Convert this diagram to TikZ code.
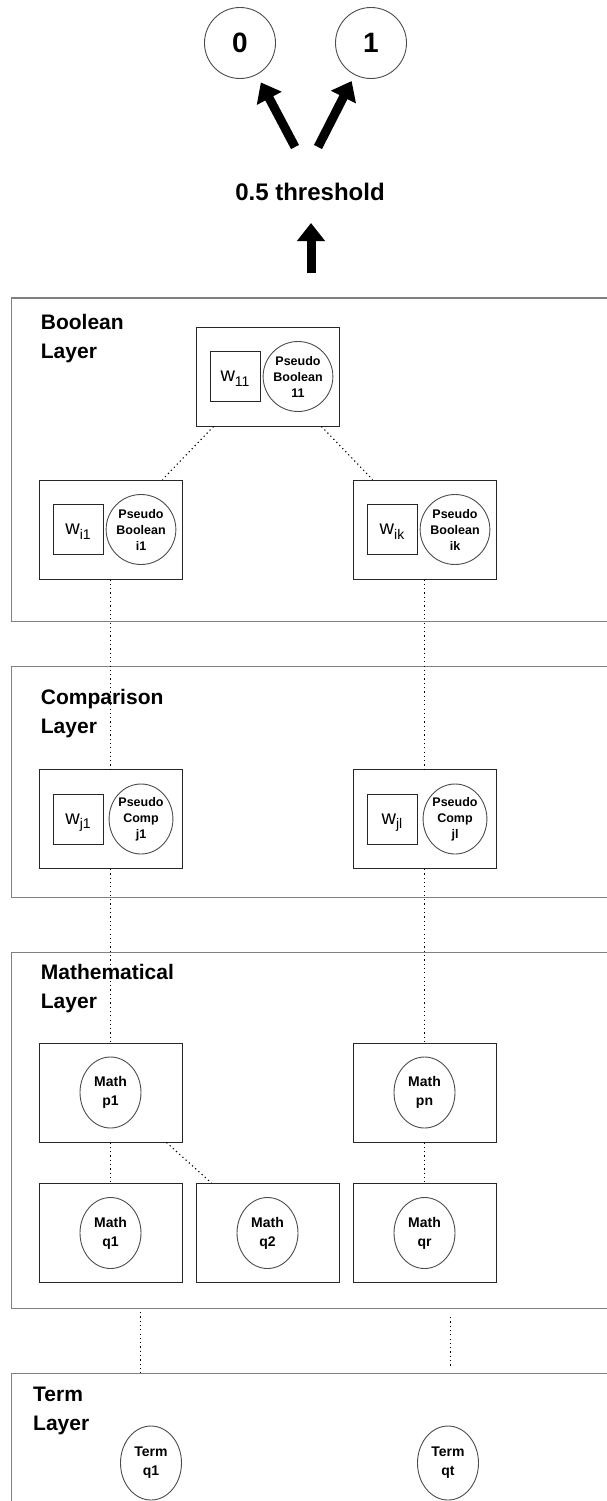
\documentclass[tikz,border=0pt]{standalone}
\usepackage{fontspec}
\setmainfont{Liberation Sans}
\usetikzlibrary{shapes.geometric,arrows.meta}
\newcommand\wsub[1]{w\raisebox{-4.5pt}{\fontsize{14}{14}\selectfont #1}}
\tikzset{
 layerbox/.style={draw=black!50, line width=1.2pt, anchor=north west, inner sep=0, minimum width=650pt},
 unitbox/.style={draw=black!85, line width=1pt, minimum width=143pt, minimum height=99pt, inner sep=0},
 wbox/.style={draw=black!85, line width=1pt, minimum width=50pt, minimum height=50pt, inner sep=0, text depth=0pt, font=\fontsize{20}{20}\selectfont},
 pseudo/.style={ellipse, draw=black!70, line width=0.9pt, minimum width=61pt, minimum height=70pt, inner sep=0, align=center, font=\fontsize{12.5}{16}\selectfont\bfseries},
 mathc/.style={pseudo, minimum height=71pt, font=\fontsize{14}{19}\selectfont\bfseries},
 termc/.style={mathc, minimum height=74pt},
 layerlabel/.style={anchor=base west, align=left, inner sep=0, font=\fontsize{21}{29}\selectfont\bfseries},
 conn/.style={black, line width=1.1pt, dash pattern=on 1.2pt off 3.1pt},
 bigarrow/.style={line width=9pt, -{Triangle[width=27pt,length=18pt]}},
 outc/.style={circle, draw=black!70, line width=0.9pt, minimum size=71pt, inner sep=0, font=\fontsize{28}{28}\selectfont\bfseries},
 thr/.style={inner sep=0, font=\fontsize{24}{24}\selectfont\bfseries},
}
\begin{document}
\begin{tikzpicture}[x=1pt,y=-1pt]
\useasboundingbox (0,0) rectangle (607,1501);
% output nodes
\node[outc] (c0) at (240,43) {0};
\node[outc] (c1) at (371,43) {1};
\node[thr] (th) at (310,192) {0.5 threshold};
\coordinate (a0s) at (295,147);
\coordinate (a1s) at (318,147);
\coordinate (ups) at (311,273);
\coordinate (upe) at (311,223);
\draw[bigarrow, shorten >=44.6pt] (a0s) -- (c0.center);
\draw[bigarrow, shorten >=42.7pt] (a1s) -- (c1.center);
\draw[bigarrow] (ups) -- (upe);
% layers
\node[layerbox, minimum height=323.7pt] (lbool) at (10.7,297.3) {};
\node[layerbox, minimum height=231pt] (lcomp) at (10.7,666) {};
\node[layerbox, minimum height=355.5pt] (lmath) at (10.7,952) {};
\node[layerbox, minimum height=200pt] (lterm) at (10.7,1373) {};
\node[layerlabel] (tbool) at (40.7,358) {Boolean\\Layer};
\node[layerlabel] (tcomp) at (40.7,733) {Comparison\\Layer};
\node[layerlabel] (tmath) at (40.7,1008) {Mathematical\\Layer};
\node[layerlabel] (tterm) at (33,1430) {Term\\Layer};
% boolean layer
\node[unitbox] (b11) at (267.5,376.5) {};
\node[wbox] (w11) at (235,376.5) {\wsub{11}};
\node[pseudo] (pb11) at (298,376.5) {Pseudo\\Boolean\\11};
\node[unitbox] (bi1) at (110.5,529.5) {};
\node[wbox] (wi1) at (78,529.5) {\wsub{i1}};
\node[pseudo] (pbi1) at (141,529.5) {Pseudo\\Boolean\\i1};
\node[unitbox] (bik) at (424.5,529.5) {};
\node[wbox] (wik) at (392,529.5) {\wsub{ik}};
\node[pseudo] (pbik) at (455,529.5) {Pseudo\\Boolean\\ik};
% comparison layer
\node[unitbox] (bj1) at (110.5,819) {};
\node[wbox] (wj1) at (78,819) {\wsub{j1}};
\node[pseudo] (pcj1) at (141,819) {Pseudo\\Comp\\j1};
\node[unitbox] (bjl) at (424.5,819) {};
\node[wbox] (wjl) at (392,819) {\wsub{jl}};
\node[pseudo] (pcjl) at (455,819) {Pseudo\\Comp\\jl};
% mathematical layer
\node[unitbox] (bp1) at (110.5,1092.5) {};
\node[mathc] (mp1) at (110.5,1092.5) {Math\\p1};
\node[unitbox] (bpn) at (424.5,1092.5) {};
\node[mathc] (mpn) at (424.5,1092.5) {Math\\pn};
\node[unitbox] (bq1) at (110.5,1233) {};
\node[mathc] (mq1) at (110.5,1233) {Math\\q1};
\node[unitbox] (bq2) at (267.5,1233) {};
\node[mathc] (mq2) at (267.5,1233) {Math\\q2};
\node[unitbox] (bqr) at (424.5,1233) {};
\node[mathc] (mqr) at (424.5,1233) {Math\\qr};
% term layer
\node[termc] (tq1) at (151,1463) {Term\\q1};
\node[termc] (tqt) at (448,1463) {Term\\qt};
% connectors
\draw[conn] ([xshift=18pt]b11.south west) -- ([xshift=-20pt]bi1.north east);
\draw[conn] ([xshift=-18pt]b11.south east) -- ([xshift=20pt]bik.north west);
\draw[conn] (bi1.south) -- (bj1.north);
\draw[conn] (bik.south) -- (bjl.north);
\draw[conn] (bj1.south) -- (bp1.north);
\draw[conn] (bjl.south) -- (bpn.north);
\draw[conn] (bp1.south) -- (bq1.north);
\draw[conn] (bpn.south) -- (bqr.north);
\draw[conn] ([xshift=-16pt]bp1.south east) -- ([xshift=16pt]bq2.north west);
\coordinate (m1) at (140.7,1312);
\coordinate (m2) at (140.7,1373);
\coordinate (m3) at (450.3,1317);
\coordinate (m4) at (450.3,1366);
\draw[conn] (m1) -- (m2);
\draw[conn] (m3) -- (m4);
\end{tikzpicture}
\end{document}
